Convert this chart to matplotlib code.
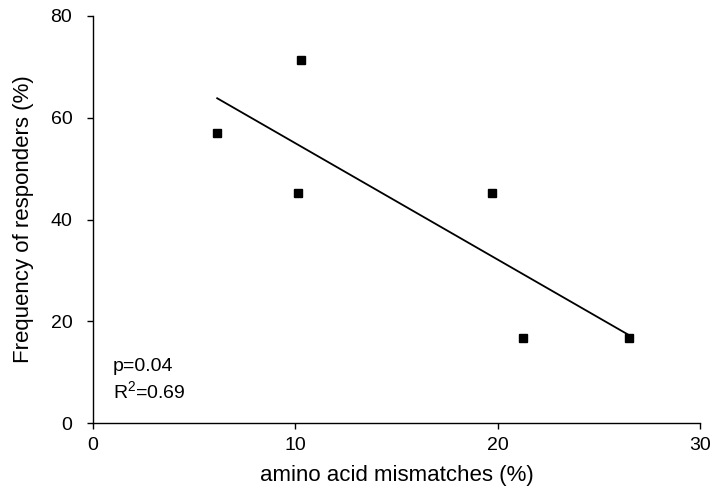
import numpy as np
import matplotlib
matplotlib.use("Agg")
import matplotlib.pyplot as plt

plt.rcParams.update({
    "font.family": ["Liberation Sans", "DejaVu Sans"],
    "font.size": 14,
    "axes.linewidth": 1.0,
    "xtick.major.width": 1.0,
    "ytick.major.width": 1.0,
    "xtick.major.size": 4.3,
    "ytick.major.size": 4.3,
    "xtick.direction": "out",
    "ytick.direction": "out",
})

# ---- data ----
mismatch = [6.14, 10.29, 10.14, 19.72, 21.25, 26.48]
responders = [57.0, 71.3, 45.2, 45.2, 16.7, 16.7]
x_ticks = [0, 10, 20, 30]
y_ticks = [0, 20, 40, 60, 80]

x = np.array(mismatch)
y = np.array(responders)
slope, icpt = np.polyfit(x, y, 1)
xl = np.array([x.min(), x.max()])

fig = plt.figure(figsize=(7.14, 4.95), dpi=100)
ax = fig.add_axes([0.130, 0.145, 0.851, 0.823])

ax.plot(xl, slope * xl + icpt, color="black", linewidth=1.3, zorder=2)
ax.plot(x, y, linestyle="none", marker="s", markersize=6.3,
        color="black", zorder=3)

ax.set_xlim(0, 30)
ax.set_ylim(0, 80)
ax.set_xticks(x_ticks)
ax.set_yticks(y_ticks)
ax.spines["top"].set_visible(False)
ax.spines["right"].set_visible(False)
ax.tick_params(axis="x", labelsize=14, pad=5.5)
ax.tick_params(axis="y", labelsize=14, pad=10.5)

ax.set_xlabel("amino acid mismatches (%)", fontsize=16, labelpad=8)
ax.set_ylabel("Frequency of responders (%)", fontsize=16, labelpad=12)

ax.text(1.0, 8.5, "p=0.04\nR$\\mathregular{^2}$=0.69", fontsize=14,
        ha="left", va="center", linespacing=1.32)

fig.savefig("out.png", dpi=100)
